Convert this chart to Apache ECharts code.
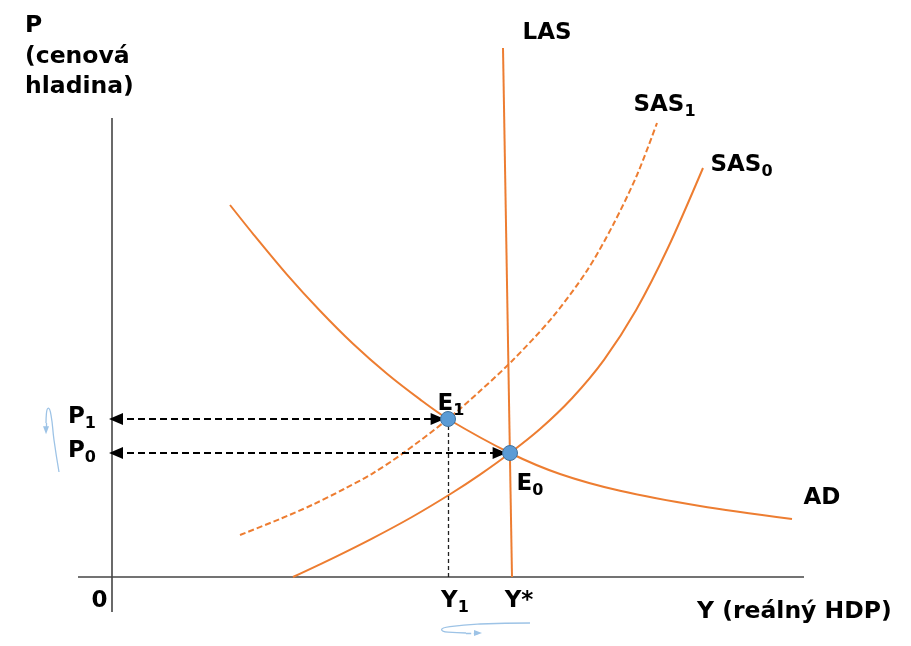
<!DOCTYPE html>
<html><head><meta charset="utf-8">
<script src="https://cdn.jsdelivr.net/npm/echarts@6/dist/echarts.min.js"></script>
<style>html,body{margin:0;padding:0;background:#fff}#chart{width:911px;height:646px}</style>
</head><body><div id="chart"></div>
<script>
// AD–AS model: Y = real GDP, P = price level
const LAS  = [[100, 0], [97.75, 132.25]];
const SAS0 = [[45.25,0],[55,4.6],[65,9.6],[75,15],[85,21],[92,25.6],[99.5,31],[107,37],[115,44.7],[123,54.3],[131,66.7],[139,82.3],[147.75,102.25]];
const SAS1 = [[32,10.5],[42,14.5],[50,18],[58,22],[65,25.8],[72.7,30.9],[84,39.5],[92,46.5],[100,54],[110,64.8],[118.75,76.6],[125.25,88],[131.25,100.5],[136.25,113.5]];
const AD   = [[29.5,93],[35.25,85.8],[43.75,75.6],[52,66.55],[60.25,58.3],[68.75,50.8],[77,44.4],[84,39.5],[99.5,31],[112,25.75],[127,21.55],[147,17.75],[170,14.5]];

// equilibria and their levels
const P0 = 31, P1 = 39.5, Y1 = 84, Ystar = 99.5;
const E0 = [Ystar, P0];
const E1 = [Y1, P1];

// tick labels: [main, subscript]
const xTickValues = [Y1, 100];
const xTickLabels = [['Y', '1'], ['Y*', '']];
const yTickValues = [P0, P1];
const yTickLabels = [['P', '0'], ['P', '1']];

// drawn axis extents
const axisX = [[-8.5, 0], [173, 0]];
const axisY = [[0, -8.75], [0, 114.75]];

// small shift arrows next to the axes
const shiftP = [[-13.25,26.25],[-14.5,34.25],[-15.25,40.5],[-15.9,42.2],[-16.4,40.8],[-16.5,38.5]];
const shiftY = [[104.5,-11.5],[92,-11.75],[84.5,-12.4],[82.4,-13.1],[84,-13.8],[88.5,-14]];

// visible value ranges
const X_RANGE = [-28, 199.75];
const Y_RANGE = [-17.25, 144.25];
const W = 911, H = 646;
// shift each axis from the grid edge onto the origin
const yAxisShift = W * (0 - X_RANGE[0]) / (X_RANGE[1] - X_RANGE[0]);
const xAxisShift = H * (0 - Y_RANGE[0]) / (Y_RANGE[1] - Y_RANGE[0]);

const ORANGE = '#ed7d31';
const FONT = 'DejaVu Sans';
const rich = {
  m: {fontFamily: FONT, fontWeight: 'bold', fontSize: 23, color: '#000', opacity: 1, lineHeight: 30},
  s: {fontFamily: FONT, fontWeight: 'bold', fontSize: 16, color: '#000', opacity: 1, lineHeight: 15, verticalAlign: 'bottom'}
};
const fmt = (pair) => '{m|' + pair[0] + '}' + (pair[1] ? '{s|' + pair[1] + '}' : '');
const last = a => a[a.length - 1];

const curve = (name, data, dashed) => ({
  name, type: 'line', data, smooth: 0.3, symbol: 'none', z: 3,
  lineStyle: {color: ORANGE, width: 2, type: dashed ? [6, 3] : 'solid'}
});

const arrowLine = (from, to) => [{coord: from}, {coord: to}];

const option = {
  animation: false,
  grid: {left: 0, right: 0, top: 0, bottom: 0, outerBoundsMode: 'none', containLabel: false},
  xAxis: {
    type: 'value', min: X_RANGE[0], max: X_RANGE[1], position: 'bottom', offset: -xAxisShift,
    axisLine: {show: false, onZero: false}, axisTick: {show: false}, splitLine: {show: false},
    axisLabel: {
      customValues: xTickValues, margin: 9, padding: [0, 0, 0, 14], color: '#000',
      formatter: v => fmt(xTickLabels[xTickValues.indexOf(v)]), rich
    }
  },
  yAxis: {
    type: 'value', min: Y_RANGE[0], max: Y_RANGE[1], position: 'left', offset: -yAxisShift,
    axisLine: {show: false, onZero: false}, axisTick: {show: false}, splitLine: {show: false},
    axisLabel: {
      customValues: yTickValues, margin: 16, padding: [0, 0, 4, 0], color: '#000',
      formatter: v => fmt(yTickLabels[yTickValues.indexOf(v)]), rich
    }
  },
  series: [
    {
      type: 'line', data: axisX, symbol: 'none', z: 2,
      lineStyle: {color: '#444', width: 1.6},
      markLine: {
        silent: true, symbol: ['triangle', 'triangle'], symbolSize: [12, 14],
        label: {show: false}, lineStyle: {color: '#000', width: 1.8, type: [7, 4]},
        data: [
          arrowLine([1, P1], [E1[0] - 2.6, P1]),
          arrowLine([1, P0], [E0[0] - 2.6, P0])
        ]
      }
    },
    {
      type: 'line', data: axisY, symbol: 'none', z: 2,
      lineStyle: {color: '#444', width: 1.6},
      markLine: {
        silent: true, symbol: ['none', 'none'],
        label: {show: false}, lineStyle: {color: '#222', width: 1.3, type: [4, 3]},
        data: [arrowLine([Y1, P1], [Y1, 0])]
      }
    },
    curve('LAS', LAS, false),
    curve('SAS0', SAS0, false),
    curve('SAS1', SAS1, true),
    curve('AD', AD, false),
    {
      type: 'line', data: shiftP, smooth: 0.5, symbol: 'none', z: 2,
      lineStyle: {color: '#9dc3e6', width: 1.3},
      markLine: {
        silent: true, symbol: ['none', 'triangle'], symbolSize: [6, 8],
        label: {show: false}, lineStyle: {color: '#9dc3e6', width: 1.3},
        itemStyle: {color: '#5b9bd5'},
        data: [arrowLine(last(shiftP), [last(shiftP)[0], last(shiftP)[1] - 1.8])]
      }
    },
    {
      type: 'line', data: shiftY, smooth: 0.5, symbol: 'none', z: 2,
      lineStyle: {color: '#9dc3e6', width: 1.3},
      markLine: {
        silent: true, symbol: ['none', 'triangle'], symbolSize: [6, 8],
        label: {show: false}, lineStyle: {color: '#9dc3e6', width: 1.3},
        itemStyle: {color: '#5b9bd5'},
        data: [arrowLine(last(shiftY), [last(shiftY)[0] + 3, last(shiftY)[1]])]
      }
    },
    {
      type: 'scatter', data: [E0, E1], symbolSize: 15, z: 6,
      itemStyle: {color: '#5b9bd5', borderColor: '#41719c', borderWidth: 1, opacity: 1}
    },
    {
      // curve names, point names and the origin
      type: 'scatter', symbolSize: 1, z: 7, silent: true,
      itemStyle: {color: 'rgba(0,0,0,0)', opacity: 1},
      label: {show: true, position: 'right', distance: 0, color: '#000', opacity: 1,
              textBorderWidth: 0, textBorderColor: 'transparent', rich},
      data: [
        {value: last(LAS),  label: {formatter: fmt(['LAS', '']),  offset: [19, -15]}},
        {value: last(SAS1), label: {formatter: fmt(['SAS', '1']), offset: [-24, -18]}},
        {value: last(SAS0), label: {formatter: fmt(['SAS', '0']), offset: [7, -3]}},
        {value: last(AD),   label: {formatter: fmt(['AD', '']),   offset: [11, -21]}},
        {value: E1,         label: {formatter: fmt(['E', '1']),   offset: [-11, -15]}},
        {value: E0,         label: {formatter: fmt(['E', '0']),   offset: [6, 31]}},
        {value: [0, 0],     label: {formatter: fmt(['0', '']),    offset: [-21, 24]}}
      ]
    }
  ],
  graphic: [
    {type: 'text', left: 25, top: 11, style: {text: 'P\n(cenová\nhladina)', font: 'bold 23.5px "DejaVu Sans"', lineHeight: 30.5, fill: '#000'}},
    {type: 'text', left: 697, top: 597, style: {text: 'Y (reálný HDP)', font: 'bold 23.5px "DejaVu Sans"', lineHeight: 30, fill: '#000'}}
  ]
};

echarts.init(document.getElementById('chart'), null, {renderer: 'canvas'}).setOption(option);
</script>
</body></html>
